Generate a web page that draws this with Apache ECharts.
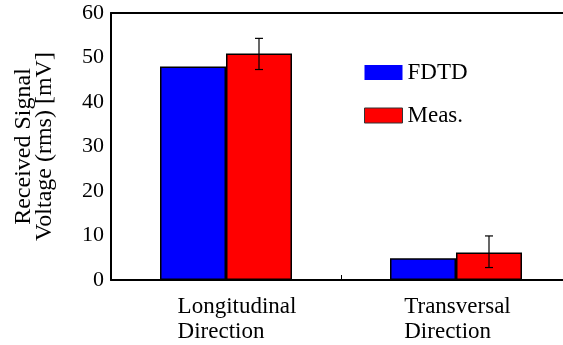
<!DOCTYPE html>
<html>
<head>
<meta charset="utf-8">
<script src="https://cdn.jsdelivr.net/npm/echarts@6/dist/echarts.min.js"></script>
<style>
html,body{margin:0;padding:0;background:#fff;}
#c{width:563px;height:345px;}
</style>
</head>
<body>
<div id="c"></div>
<script>
const categories = ['Longitudinal Direction', 'Transversal Direction'];
const fdtd = [48.0, 4.9];
const meas = [50.9, 6.2];
const measLow = [47.3, 2.8];
const measHigh = [54.3, 9.9];
const yTicks = [0, 10, 20, 30, 40, 50, 60];

const FONT = '"Liberation Serif", "Times New Roman", serif';
const chart = echarts.init(document.getElementById('c'), null, {renderer: 'canvas'});

const errData = categories.map((c, i) => [i, measLow[i], measHigh[i]]);

chart.setOption({
  animation: false,
  backgroundColor: '#fff',
  textStyle: {fontFamily: FONT, color: '#000'},
  grid: {left: 111, top: 13, width: 460, height: 267, containLabel: false, outerBoundsMode: 'none'},
  legend: {
    orient: 'vertical',
    left: 364,
    top: 61,
    padding: 0,
    icon: 'rect',
    itemWidth: 38,
    itemHeight: 15,
    itemGap: 20,
    textStyle: {fontFamily: FONT, fontSize: 23, lineHeight: 21, color: '#000'},
    data: [
      {name: 'FDTD', itemStyle: {borderWidth: 0}},
      {name: 'Meas.', itemStyle: {borderColor: '#333', borderWidth: 1}}
    ]
  },
  xAxis: [{
    type: 'category',
    data: categories,
    boundaryGap: true,
    axisLine: {lineStyle: {color: '#000', width: 2}},
    axisTick: {show: true, inside: true, length: 5, lineStyle: {color: '#000', width: 1}},
    axisLabel: {
      margin: 14,
      interval: 0,
      formatter: function (v, i) {
        const parts = v.split(' ');
        const s = i === 0 ? 'p' : 'q';
        return '{' + s + '|' + parts[0] + '}\n{' + s + '|' + parts[1] + '}';
      },
      rich: {
        p: {fontFamily: FONT, fontSize: 23, lineHeight: 25, color: '#000', align: 'left', padding: [0, 0, 0, 22]},
        q: {fontFamily: FONT, fontSize: 23, lineHeight: 25, color: '#000', align: 'left', padding: [0, 0, 0, 3]}
      }
    }
  }, {
    type: 'category',
    position: 'top',
    data: categories,
    axisLine: {show: true, lineStyle: {color: '#000', width: 2}},
    axisTick: {show: false},
    axisLabel: {show: false}
  }],
  yAxis: {
    type: 'value',
    min: yTicks[0],
    max: yTicks[yTicks.length - 1],
    interval: 10,
    name: 'Received Signal\nVoltage (rms) [mV]',
    nameLocation: 'middle',
    nameRotate: 90,
    nameGap: 56,
    nameTextStyle: {fontFamily: FONT, fontSize: 24, lineHeight: 21, color: '#000'},
    axisLine: {show: true, lineStyle: {color: '#000', width: 2}},
    axisTick: {show: false},
    splitLine: {show: false},
    axisLabel: {fontFamily: FONT, fontSize: 22, color: '#000', margin: 7}
  },
  series: [{
    name: 'FDTD',
    type: 'bar',
    data: fdtd,
    barWidth: 66,
    barGap: '0%',
    itemStyle: {color: '#0000ff', borderColor: '#000', borderWidth: 1.5}
  }, {
    name: 'Meas.',
    type: 'bar',
    data: meas,
    barWidth: 66,
    barGap: '0%',
    itemStyle: {color: '#ff0000', borderColor: '#000', borderWidth: 1.5}
  }, {
    name: 'err',
    type: 'custom',
    data: errData,
    z: 10,
    renderItem: function (params, api) {
      const lo = api.coord([api.value(0), api.value(1)]);
      const hi = api.coord([api.value(0), api.value(2)]);
      const x = lo[0] + 33;
      const w = 4;
      const st = {stroke: '#000', lineWidth: 1.2};
      return {
        type: 'group',
        children: [
          {type: 'line', shape: {x1: x, y1: lo[1], x2: x, y2: hi[1]}, style: st},
          {type: 'line', shape: {x1: x - w, y1: lo[1], x2: x + w, y2: lo[1]}, style: st},
          {type: 'line', shape: {x1: x - w, y1: hi[1], x2: x + w, y2: hi[1]}, style: st}
        ]
      };
    }
  }]
});
</script>
</body>
</html>
